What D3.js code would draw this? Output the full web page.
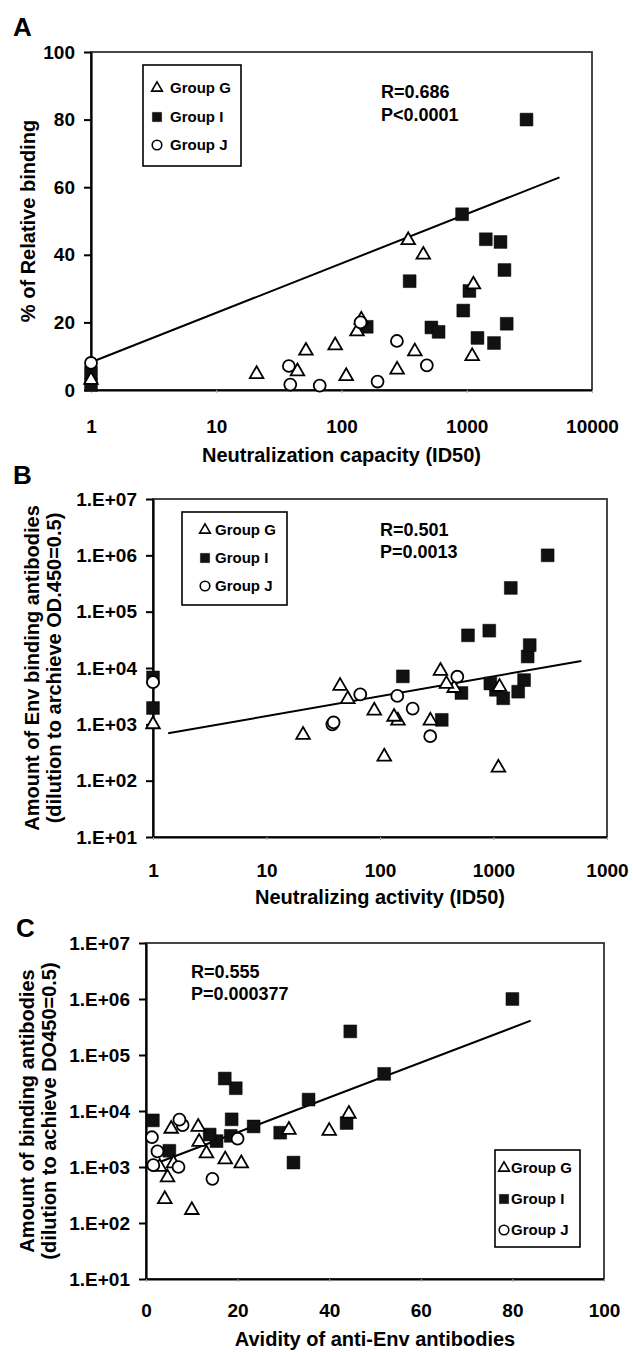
<!DOCTYPE html>
<html>
<head>
<meta charset="utf-8">
<script src="https://cdn.jsdelivr.net/npm/d3@7"></script>
<style>
  body { margin: 0; background: #fff; }
  svg text { font-family: "Liberation Sans", Arial, sans-serif; font-weight: bold; fill: #000; }
</style>
</head>
<body>
<div id="chart"></div>
<script>
// each animal: neutralization ID50, % relative binding (avidity), binding antibody titer
var groupG_id50    = [341, 450, 1130, 144, 133, 89, 52, 385, 1105, 44.5, 21, 109, 278, 1];
var groupG_avidity = [44.3, 40, 31.2, 20.8, 17.3, 13.2, 11.6, 11.4, 10, 5.5, 4.7, 4.1, 6, 3];
var groupG_binding = [8900, 4400, 4600, 1160, 1360, 1750, 2800, 5200, 170, 4800, 650, 267, 1160, 1000];

var groupI_id50    = [3000, 1420, 918, 1860, 2000, 350, 1050, 938, 2085, 159, 522, 596, 1218, 1650, 1, 1];
var groupI_avidity = [80, 44.6, 52, 43.8, 35.5, 32.2, 29.3, 23.5, 19.6, 18.7, 18.5, 17.2, 15.4, 13.9, 5.1, 1.5];
var groupI_binding = [1000000, 264000, 46000, 6100, 16000, 1200, 4100, 5300, 25500, 7100, 3600, 38000, 2900, 3800, 1950, 6800];

var groupJ_id50    = [1, 38, 39, 67, 142, 194, 277, 480];
var groupJ_avidity = [8, 7.1, 1.6, 1.3, 20, 2.5, 14.5, 7.3];
var groupJ_binding = [5600, 1000, 1080, 3400, 3200, 1900, 615, 7000];

// regression line end points
var fitA_x = [1, 5500],  fitA_y = [8.2, 62.9];
var fitB_x = [1.36, 5940], fitB_y = [692, 13300];
var fitC_x = [3, 84],    fitC_y = [1230, 410000];

var logTicksX = [1, 10, 100, 1000, 10000];
var logTickLabelsA = ["1", "10", "100", "1000", "10000"];
var logTickLabelsB = ["1", "10", "100", "1000", "1000"];
var pctTicks = [0, 20, 40, 60, 80, 100];
var pctTickLabels = ["0", "20", "40", "60", "80", "100"];
var titerTicks = [10, 100, 1000, 10000, 100000, 1000000, 10000000];
var titerTickLabels = ["1.E+01", "1.E+02", "1.E+03", "1.E+04", "1.E+05", "1.E+06", "1.E+07"];
var legendNames = ["Group G", "Group I", "Group J"];

function rows(xs, ys) { return xs.map(function(v, i) { return {x: v, y: ys[i]}; }); }

var svg = d3.select("#chart").append("svg")
  .attr("width", 633).attr("height", 1352);

var panels = [
  { letter: "A", lx: 13, ly: 36, xLog: true, yLog: false,
    xDomain: [1, 10000], yDomain: [0, 100],
    left: 91, right: 592, top: 52, bottom: 390,
    xTicks: logTicksX, xLabels: logTickLabelsA, yTicks: pctTicks, yLabels: pctTickLabels,
    xLabelGap: 43, xTitle: "Neutralization capacity (ID50)", xTitleY: 462,
    yTitle: ["% of Relative binding"], yTitleX: [35],
    G: rows(groupG_id50, groupG_avidity), I: rows(groupI_id50, groupI_avidity), J: rows(groupJ_id50, groupJ_avidity),
    fit: rows(fitA_x, fitA_y),
    stats: ["R=0.686", "P<0.0001"], sx: 381, sy: [98, 121],
    legend: {x: 143, y: 65, w: 98, h: 101, sym: 157, tx: 170, rows: [88, 117, 145]} },
  { letter: "B", lx: 13, ly: 484, xLog: true, yLog: true,
    xDomain: [1, 10000], yDomain: [10, 10000000],
    left: 153, right: 607, top: 499, bottom: 837,
    xTicks: logTicksX, xLabels: logTickLabelsB, yTicks: titerTicks, yLabels: titerTickLabels,
    xLabelGap: 40, xTitle: "Neutralizing activity (ID50)", xTitleY: 904,
    yTitle: ["Amount of Env binding antibodies", "(dilution to archieve OD.450=0.5)"], yTitleX: [39, 61],
    G: rows(groupG_id50, groupG_binding), I: rows(groupI_id50, groupI_binding), J: rows(groupJ_id50, groupJ_binding),
    fit: rows(fitB_x, fitB_y),
    stats: ["R=0.501", "P=0.0013"], sx: 380, sy: [536, 558],
    legend: {x: 182, y: 512, w: 105, h: 93, sym: 205, tx: 215, rows: [530, 558, 586]} },
  { letter: "C", lx: 16, ly: 937, xLog: false, yLog: true,
    xDomain: [0, 100], yDomain: [10, 10000000],
    left: 146, right: 604, top: 943, bottom: 1279,
    xTicks: pctTicks, xLabels: pctTickLabels, yTicks: titerTicks, yLabels: titerTickLabels,
    xLabelGap: 38, xTitle: "Avidity of anti-Env antibodies", xTitleY: 1346,
    yTitle: ["Amount of binding antibodies", "(dilution to achieve DO450=0.5)"], yTitleX: [34, 56],
    G: rows(groupG_avidity, groupG_binding), I: rows(groupI_avidity, groupI_binding), J: rows(groupJ_avidity, groupJ_binding),
    fit: rows(fitC_x, fitC_y),
    stats: ["R=0.555", "P=0.000377"], sx: 191, sy: [978, 1000],
    legend: {x: 495, y: 1150, w: 85, h: 97, sym: 504, tx: 511, rows: [1168, 1199, 1230]} }
];

var triangle = d3.symbol().type(d3.symbolTriangle);
var square = d3.symbol().type(d3.symbolSquare);
var circle = d3.symbol().type(d3.symbolCircle);

function marks(g, data, x, y, kind) {
  var gen, size;
  if (kind == "G") { gen = triangle; size = 80; }
  if (kind == "I") { gen = square; size = 165; }
  if (kind == "J") { gen = circle; size = 112; }
  g.selectAll(null).data(data).enter()
    .append("path")
    .attr("d", gen.size(size)())
    .attr("transform", function(d) { return "translate(" + x(d.x) + "," + y(d.y) + ")"; })
    .attr("fill", kind == "I" ? "#111" : "#fff")
    .attr("stroke", "#000")
    .attr("stroke-width", kind == "I" ? 0.5 : 1.8);
}

panels.forEach(function(p) {
  var x = (p.xLog ? d3.scaleLog() : d3.scaleLinear()).domain(p.xDomain).range([p.left, p.right]);
  var y = (p.yLog ? d3.scaleLog() : d3.scaleLinear()).domain(p.yDomain).range([p.bottom, p.top]);
  var g = svg.append("g");

  g.append("text").attr("x", p.lx).attr("y", p.ly).style("font-size", "26px").text(p.letter);

  // plot frame
  g.append("rect")
    .attr("x", p.left).attr("y", p.top)
    .attr("width", p.right - p.left).attr("height", p.bottom - p.top)
    .attr("fill", "none").attr("stroke", "#333").attr("stroke-width", 1.8);

  // axes
  var yAxis = d3.axisLeft(y).tickValues(p.yTicks)
    .tickFormat(function(d, i) { return p.yLabels[i]; })
    .tickSizeInner(7).tickSizeOuter(0).tickPadding(9);
  var ya = g.append("g").attr("transform", "translate(" + p.left + ",0)").call(yAxis);
  ya.select(".domain").attr("stroke", "#000").attr("stroke-width", 2.2);
  ya.selectAll(".tick line").attr("stroke", "#000").attr("stroke-width", 2);
  ya.selectAll(".tick text").style("font-size", "19px").attr("font-family", null);

  var xAxis = d3.axisBottom(x).tickValues(p.xTicks)
    .tickFormat(function(d, i) { return p.xLabels[i]; })
    .tickSizeInner(3).tickSizeOuter(0).tickPadding(p.xLabelGap - 3 - 13.5);
  var xa = g.append("g").attr("transform", "translate(0," + p.bottom + ")").call(xAxis);
  xa.select(".domain").attr("stroke", "#000").attr("stroke-width", 2.2);
  xa.selectAll(".tick line").attr("stroke", "#aaa").attr("stroke-width", 1);
  xa.selectAll(".tick text").style("font-size", "19px").attr("font-family", null);

  // axis titles
  g.append("text")
    .attr("x", (p.left + p.right) / 2).attr("y", p.xTitleY)
    .attr("text-anchor", "middle").style("font-size", "20px")
    .text(p.xTitle);
  p.yTitle.forEach(function(t, i) {
    g.append("text")
      .attr("transform", "translate(" + p.yTitleX[i] + "," + ((p.top + p.bottom) / 2) + ") rotate(-90)")
      .attr("text-anchor", "middle").style("font-size", "20px")
      .text(t);
  });

  // regression line
  g.append("path").datum(p.fit)
    .attr("d", d3.line().x(function(d) { return x(d.x); }).y(function(d) { return y(d.y); }))
    .attr("fill", "none").attr("stroke", "#000").attr("stroke-width", 2);

  // points
  marks(g, p.I, x, y, "I");
  marks(g, p.G, x, y, "G");
  marks(g, p.J, x, y, "J");

  // stats
  p.stats.forEach(function(t, i) {
    g.append("text").attr("x", p.sx).attr("y", p.sy[i]).style("font-size", "18px").text(t);
  });

  // legend
  var L = p.legend;
  g.append("rect").attr("x", L.x).attr("y", L.y).attr("width", L.w).attr("height", L.h)
    .attr("fill", "#fff").attr("stroke", "#000").attr("stroke-width", 1.6);
  ["G", "I", "J"].forEach(function(k, i) {
    var gen = k == "G" ? triangle.size(50) : k == "I" ? square.size(85) : circle.size(72);
    g.append("path").attr("d", gen())
      .attr("transform", "translate(" + L.sym + "," + L.rows[i] + ")")
      .attr("fill", k == "I" ? "#111" : "#fff").attr("stroke", "#000")
      .attr("stroke-width", k == "I" ? 0.5 : 1.6);
    g.append("text").attr("x", L.tx).attr("y", L.rows[i]).attr("dy", "0.36em")
      .style("font-size", "15px").text(legendNames[i]);
  });
});
</script>
</body>
</html>
